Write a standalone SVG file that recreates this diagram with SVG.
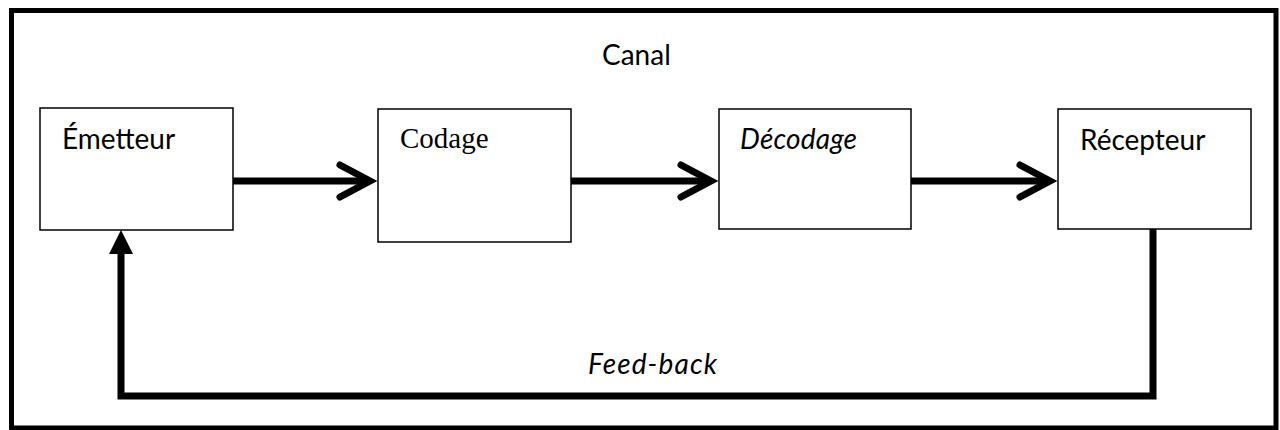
<svg xmlns="http://www.w3.org/2000/svg" width="1280" height="430" viewBox="0 0 1280 430">
  <style>
    .frame { fill: #fff; stroke: #000; stroke-width: 5; }
    .box { fill: #fff; stroke: #000; stroke-width: 1.5; }
    .flow { fill: none; stroke: #000; stroke-width: 7; stroke-linejoin: miter; }
    .sans { font-family: Lato, "Open Sans", "Liberation Sans", sans-serif; font-size: 28px; fill: #000; }
    .serif { font-family: "Liberation Serif", "DejaVu Serif", serif; font-size: 29px; fill: #000; }
    .it { font-style: italic; }
  </style>
  <defs>
    <!-- open chevron head for the forward chain -->
    <marker id="chevron" markerUnits="userSpaceOnUse" viewBox="-40 -25 50 50" markerWidth="50" markerHeight="50" refX="0" refY="0" orient="auto" overflow="visible">
      <path d="M-30,-16 L0,0 L-30,16" fill="none" stroke="#000" stroke-width="7" stroke-linecap="round" stroke-linejoin="miter"/>
    </marker>
    <!-- solid triangle head for the return path -->
    <marker id="triangle" markerUnits="userSpaceOnUse" viewBox="-2 -14 28 28" markerWidth="28" markerHeight="28" refX="0" refY="0" orient="auto" overflow="visible">
      <path d="M24,0 L0,-12 L0,12 Z" fill="#000"/>
    </marker>
  </defs>

  <!-- outer border -->
  <rect class="frame" x="11.5" y="10.5" width="1264.5" height="417.5"/>
  <text class="sans" x="602" y="65">Canal</text>

  <g id="emetteur">
    <rect class="box" x="40" y="108" width="193" height="122"/>
    <text class="sans" x="62" y="149">Émetteur</text>
  </g>
  <g id="codage">
    <rect class="box" x="378" y="109" width="193" height="133"/>
    <text class="serif" x="400" y="148">Codage</text>
  </g>
  <g id="decodage">
    <rect class="box" x="719" y="109" width="192" height="120"/>
    <text class="sans it" x="740" y="149" textLength="117">Décodage</text>
  </g>
  <g id="recepteur">
    <rect class="box" x="1058" y="109" width="193" height="120"/>
    <text class="sans" x="1080" y="150">Récepteur</text>
  </g>

  <g id="connectors">
    <line class="flow" x1="233" y1="181" x2="370" y2="181" marker-end="url(#chevron)"/>
    <line class="flow" x1="571" y1="181" x2="711" y2="181" marker-end="url(#chevron)"/>
    <line class="flow" x1="911" y1="181" x2="1050" y2="181" marker-end="url(#chevron)"/>
    <polyline class="flow" points="1153,229 1153,396 121,396 121,254" marker-end="url(#triangle)"/>
    <text class="sans it" x="588" y="374" textLength="129">Feed-back</text>
  </g>
</svg>
